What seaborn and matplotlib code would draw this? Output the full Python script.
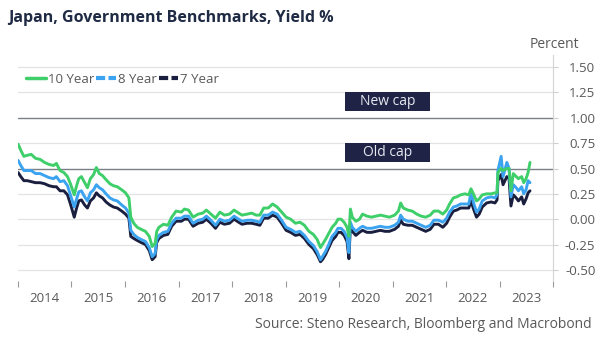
import matplotlib
matplotlib.use("Agg")
import matplotlib.pyplot as plt
import matplotlib.dates as mdates
from matplotlib.lines import Line2D
from matplotlib.patches import Rectangle
import matplotlib.transforms as mtransforms
import numpy as np
import pandas as pd
import seaborn as sns

# JGB benchmark yields, %
dates = [
    "2014-01-02", "2014-01-20", "2014-02-10", "2014-03-05", "2014-04-01", "2014-05-01",
    "2014-06-01", "2014-07-01", "2014-08-01", "2014-09-01", "2014-09-20", "2014-10-15",
    "2014-11-10", "2014-12-05", "2014-12-25", "2015-01-20", "2015-02-05", "2015-02-20",
    "2015-03-10", "2015-04-01", "2015-04-20", "2015-05-10", "2015-06-01", "2015-06-20",
    "2015-07-10", "2015-08-01", "2015-08-25", "2015-09-20", "2015-10-15", "2015-11-10",
    "2015-12-10", "2016-01-05", "2016-01-28", "2016-02-10", "2016-03-01", "2016-03-25",
    "2016-04-20", "2016-05-20", "2016-06-15", "2016-07-05", "2016-07-25", "2016-08-05",
    "2016-08-20", "2016-09-20", "2016-10-20", "2016-11-15", "2016-12-15", "2017-01-20",
    "2017-02-10", "2017-03-10", "2017-04-10", "2017-05-15", "2017-06-15", "2017-07-10",
    "2017-08-10", "2017-09-10", "2017-10-10", "2017-11-10", "2017-12-15", "2018-01-15",
    "2018-02-15", "2018-03-10", "2018-04-15", "2018-05-15", "2018-06-15", "2018-07-10",
    "2018-08-05", "2018-09-05", "2018-10-05", "2018-11-05", "2018-12-05", "2019-01-05",
    "2019-02-05", "2019-03-10", "2019-04-10", "2019-05-10", "2019-06-10", "2019-07-10",
    "2019-08-05", "2019-08-28", "2019-09-10", "2019-10-01", "2019-10-20", "2019-11-15",
    "2019-12-10", "2019-12-25", "2020-01-15", "2020-02-05", "2020-02-25", "2020-03-09",
    "2020-03-19", "2020-04-01", "2020-04-25", "2020-05-20", "2020-06-10", "2020-07-10",
    "2020-08-10", "2020-09-10", "2020-10-10", "2020-11-10", "2020-12-10", "2021-01-15",
    "2021-02-10", "2021-02-25", "2021-03-15", "2021-04-15", "2021-05-15", "2021-06-15",
    "2021-07-15", "2021-08-15", "2021-09-15", "2021-10-10", "2021-11-10", "2021-12-10",
    "2022-01-05", "2022-01-25", "2022-02-20", "2022-03-15", "2022-04-10", "2022-05-10",
    "2022-06-05", "2022-06-20", "2022-07-10", "2022-07-28", "2022-08-15", "2022-09-05",
    "2022-10-05", "2022-11-05", "2022-12-01", "2022-12-15", "2022-12-21", "2023-01-12",
    "2023-01-25", "2023-02-20", "2023-03-07", "2023-03-20", "2023-04-05", "2023-04-25",
    "2023-05-10", "2023-06-01", "2023-06-15", "2023-07-01", "2023-07-15", "2023-07-28",
]

yield_10y = [
    0.74, 0.68, 0.62, 0.63, 0.64, 0.60, 0.59, 0.56, 0.54, 0.53, 0.55, 0.48,
    0.46, 0.42, 0.35, 0.24, 0.33, 0.40, 0.42, 0.36, 0.31, 0.40, 0.44, 0.51,
    0.45, 0.43, 0.39, 0.35, 0.33, 0.32, 0.29, 0.26, 0.21, 0.02, -0.04, -0.08,
    -0.10, -0.12, -0.17, -0.27, -0.24, -0.12, -0.08, -0.05, -0.06, 0.02, 0.08, 0.07,
    0.10, 0.09, 0.02, 0.05, 0.06, 0.09, 0.05, 0.01, 0.07, 0.04, 0.05, 0.09,
    0.06, 0.04, 0.05, 0.06, 0.04, 0.04, 0.11, 0.11, 0.15, 0.12, 0.07, 0.02,
    0.00, -0.04, -0.03, -0.06, -0.12, -0.15, -0.20, -0.28, -0.25, -0.20, -0.15, -0.08,
    -0.04, 0.00, 0.00, -0.03, -0.08, -0.17, 0.10, 0.02, -0.02, 0.00, 0.05, 0.03,
    0.02, 0.03, 0.04, 0.03, 0.02, 0.04, 0.08, 0.16, 0.11, 0.09, 0.08, 0.05,
    0.03, 0.02, 0.04, 0.08, 0.08, 0.05, 0.09, 0.15, 0.21, 0.22, 0.24, 0.25,
    0.24, 0.30, 0.24, 0.18, 0.20, 0.24, 0.25, 0.25, 0.26, 0.26, 0.46, 0.50,
    0.48, 0.50, 0.50, 0.28, 0.45, 0.42, 0.40, 0.42, 0.36, 0.40, 0.46, 0.56,
]

yield_8y = [
    0.58, 0.53, 0.48, 0.48, 0.48, 0.45, 0.45, 0.43, 0.41, 0.40, 0.42, 0.37,
    0.38, 0.33, 0.24, 0.12, 0.20, 0.27, 0.28, 0.22, 0.18, 0.26, 0.29, 0.34,
    0.31, 0.29, 0.25, 0.21, 0.19, 0.18, 0.14, 0.11, 0.06, -0.11, -0.15, -0.18,
    -0.20, -0.22, -0.28, -0.37, -0.34, -0.20, -0.16, -0.13, -0.12, -0.04, 0.01, 0.01,
    0.03, 0.03, -0.04, -0.01, 0.00, 0.03, -0.01, -0.06, 0.00, -0.02, -0.01, 0.03,
    0.00, -0.02, -0.01, -0.01, -0.02, -0.03, 0.04, 0.04, 0.07, 0.05, -0.01, -0.08,
    -0.10, -0.13, -0.12, -0.16, -0.22, -0.26, -0.32, -0.40, -0.37, -0.32, -0.26, -0.17,
    -0.13, -0.09, -0.09, -0.12, -0.18, -0.33, -0.03, -0.08, -0.12, -0.09, -0.07, -0.09,
    -0.09, -0.08, -0.07, -0.08, -0.08, -0.06, -0.03, 0.04, 0.00, -0.02, -0.02, -0.04,
    -0.06, -0.08, -0.06, -0.01, -0.01, -0.03, 0.01, 0.07, 0.12, 0.13, 0.15, 0.15,
    0.15, 0.26, 0.15, 0.07, 0.10, 0.18, 0.21, 0.22, 0.21, 0.24, 0.48, 0.62,
    0.42, 0.56, 0.50, 0.22, 0.34, 0.31, 0.28, 0.32, 0.25, 0.29, 0.38, 0.36,
]

yield_7y = [
    0.46, 0.42, 0.38, 0.38, 0.37, 0.36, 0.36, 0.35, 0.33, 0.32, 0.32, 0.28,
    0.28, 0.24, 0.15, 0.02, 0.11, 0.18, 0.19, 0.14, 0.11, 0.18, 0.21, 0.26,
    0.23, 0.21, 0.17, 0.14, 0.12, 0.11, 0.08, 0.05, 0.01, -0.17, -0.19, -0.21,
    -0.23, -0.25, -0.31, -0.40, -0.37, -0.23, -0.19, -0.16, -0.15, -0.07, -0.02, -0.02,
    0.00, 0.00, -0.07, -0.04, -0.03, 0.00, -0.04, -0.09, -0.03, -0.05, -0.04, 0.00,
    -0.03, -0.05, -0.04, -0.04, -0.05, -0.06, 0.01, 0.01, 0.04, 0.02, -0.04, -0.11,
    -0.13, -0.16, -0.15, -0.19, -0.25, -0.29, -0.35, -0.42, -0.40, -0.35, -0.29, -0.21,
    -0.17, -0.13, -0.13, -0.16, -0.22, -0.39, -0.06, -0.12, -0.16, -0.13, -0.11, -0.13,
    -0.13, -0.12, -0.11, -0.12, -0.12, -0.10, -0.07, -0.01, -0.05, -0.06, -0.06, -0.08,
    -0.10, -0.12, -0.10, -0.05, -0.05, -0.08, -0.04, 0.02, 0.08, 0.09, 0.11, 0.11,
    0.11, 0.18, 0.09, 0.02, 0.05, 0.12, 0.16, 0.17, 0.16, 0.19, 0.38, 0.44,
    0.34, 0.42, 0.40, 0.13, 0.24, 0.21, 0.18, 0.22, 0.15, 0.20, 0.26, 0.28,
]

series_names = ["10 Year", "8 Year", "7 Year"]
series_colors = ["#3ecf6a", "#3ba3ef", "#1b1f3f"]
y_ticks = [-0.50, -0.25, 0.00, 0.25, 0.50, 0.75, 1.00, 1.25, 1.50]
cap_levels = [1.00, 0.50]
cap_labels = ["New cap", "Old cap"]

TEXT_GREY = "#595959"
NAVY = "#1f2446"

sns.set_theme(style="white")
plt.rcParams["font.family"] = ["Open Sans", "DejaVu Sans"]

df = pd.DataFrame({
    "date": pd.to_datetime(dates * 3),
    "value": yield_10y + yield_8y + yield_7y,
    "series": np.repeat(series_names, len(dates)),
})

fig = plt.figure(figsize=(6.02, 3.44), dpi=100)
ax = fig.add_axes([18 / 602, 1 - 281 / 344, 535 / 602, (281 - 55) / 344])

# grid + cap reference lines
for t in y_ticks:
    if t in cap_levels:
        ax.axhline(t, color="#7a7f88", lw=1.0, zorder=1)
    else:
        ax.axhline(t, color="#e3e3e3", lw=0.9, zorder=0)

# draw the back series first so the 10-year line sits on top
plot_order = ["7 Year", "8 Year", "10 Year"]
palette = dict(zip(series_names, series_colors))
for name in plot_order:
    sns.lineplot(data=df[df["series"] == name], x="date", y="value",
                 color=palette[name], lw=2.1, ax=ax, legend=False, zorder=3)

ax.set_xlim(pd.Timestamp("2014-01-01"), pd.Timestamp("2024-01-01"))
ax.set_ylim(-0.61, 1.62)
ax.set_xlabel("")
ax.set_ylabel("")

# x axis: ticks at year boundaries, labels centred mid-year
ax.xaxis.set_major_locator(mdates.YearLocator())
ax.xaxis.set_major_formatter(plt.NullFormatter())
ax.xaxis.set_minor_locator(mdates.MonthLocator(bymonth=7, bymonthday=1))
ax.xaxis.set_minor_formatter(mdates.DateFormatter("%Y"))
ax.tick_params(axis="x", which="major", length=4, width=0.8, color="#9a9a9a",
               direction="out", bottom=True)
ax.tick_params(axis="x", which="minor", length=0, pad=8, labelsize=9.5,
               labelcolor=TEXT_GREY, bottom=True)

# y axis on the right, labels right-aligned
ax.yaxis.tick_right()
ax.set_yticks(y_ticks)
ax.set_yticklabels([f"{t:.2f}" for t in y_ticks])
ax.tick_params(axis="y", length=3.5, width=0.8, color="#cfcfcf", direction="out",
               pad=27, labelsize=9.5, labelcolor=TEXT_GREY, right=True, left=False)
for lab in ax.get_yticklabels():
    lab.set_horizontalalignment("right")

for s in ["left", "top", "bottom"]:
    ax.spines[s].set_visible(False)
ax.spines["right"].set_color("#d4d4d4")
ax.spines["right"].set_linewidth(0.8)
ax.grid(False)

# cap labels as filled boxes
trans = mtransforms.blended_transform_factory(ax.transAxes, ax.transData)
box_x0 = (345 - 18) / 535
box_w = 85 / 535
for lvl, txt in zip(cap_levels, cap_labels):
    y0 = lvl + 0.065
    y1 = lvl + 0.25
    ax.add_patch(Rectangle((box_x0, y0), box_w, y1 - y0, transform=trans,
                           facecolor=NAVY, edgecolor="none", zorder=4))
    ax.text(box_x0 + box_w / 2, (y0 + y1) / 2, txt, transform=trans,
            ha="center", va="center", color="#e6e8f0", fontsize=10, zorder=5)

# legend
handles = [
    Line2D([], [], color=series_colors[0], lw=2.5),
    Line2D([], [], color=series_colors[1], lw=3, linestyle=(0, (2.2, 0.8))),
    Line2D([], [], color=series_colors[2], lw=3, linestyle=(0, (2.2, 0.8))),
]
leg = ax.legend(handles, series_names, loc="upper left", bbox_to_anchor=(0.0, 0.955),
                ncol=3, frameon=False, fontsize=9.5, handlelength=1.5, handletextpad=0.15,
                columnspacing=0.15, borderaxespad=0.2)
for t in leg.get_texts():
    t.set_color(TEXT_GREY)

fig.text(8 / 602, 1 - 18 / 344, "Japan, Government Benchmarks, Yield %", ha="left",
         va="center", fontsize=11.5, fontweight="bold", color="#1f2a44")
fig.text(579 / 602, 1 - 44 / 344, "Percent", ha="right", va="center", fontsize=10,
         color=TEXT_GREY)
fig.text(592 / 602, 1 - 325 / 344, "Source: Steno Research, Bloomberg and Macrobond",
         ha="right", va="center", fontsize=10, color=TEXT_GREY)

fig.savefig("out.png", dpi=100)
